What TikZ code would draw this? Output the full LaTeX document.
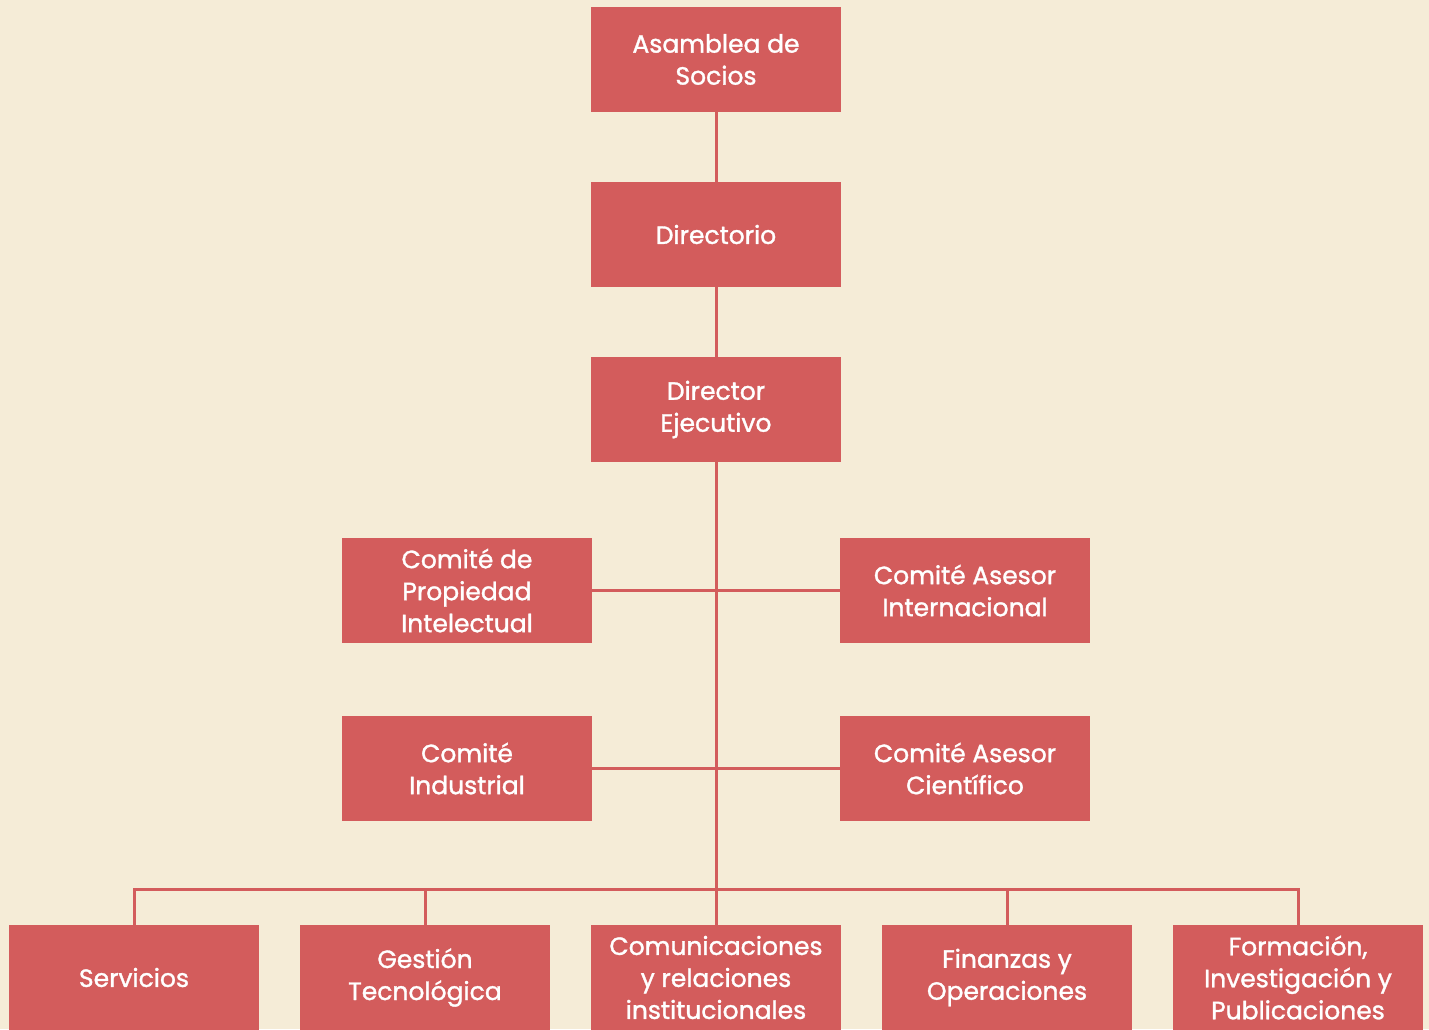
\documentclass[tikz,border=0pt]{standalone}
\usepackage{fontspec}
\setmainfont{Poppins}
\newfontfamily\boxfont{Poppins}[FakeBold=1.3]
\definecolor{boxred}{HTML}{D35C5C}
\definecolor{bgcream}{HTML}{F5ECD7}
\begin{document}
\begin{tikzpicture}[x=0.5pt,y=-0.5pt,
  orgbox/.style={fill=boxred, text=white, minimum width=125pt, minimum height=52.5pt,
    inner sep=0pt, align=center, font=\boxfont\fontsize{12.5}{16}\selectfont},
  link/.style={draw=boxred, line width=1.5pt}]
\fill[bgcream] (0,0) rectangle (1429,1029);
\useasboundingbox (0,0) rectangle (1429,1029);
\begin{scope}
\clip (0,0) rectangle (1429,1029);
\node[orgbox] (asam) at (716,59.5) {Asamblea de\\Socios};
\node[orgbox] (dir) at (716,234.5) {Directorio};
\node[orgbox] (dexe) at (716,409.5) {Director\\Ejecutivo};
\node[orgbox] (cpi) at (467,590.5) {Comité de\\Propiedad\\Intelectual};
\node[orgbox] (cai) at (965,590.5) {Comité Asesor\\Internacional};
\node[orgbox] (cind) at (467,768.5) {Comité\\Industrial};
\node[orgbox] (cac) at (965,768.5) {Comité Asesor\\Científico};
\node[orgbox] (serv) at (134,977.5) {Servicios};
\node[orgbox] (gest) at (425,977.5) {Gestión\\Tecnológica};
\node[orgbox] (comu) at (716,977.5) {Comunicaciones\\y relaciones\\institucionales};
\node[orgbox] (fin) at (1007,977.5) {Finanzas y\\Operaciones};
\node[orgbox] (form) at (1298,977.5) {Formación,\\Investigación y\\Publicaciones};
\end{scope}
\coordinate (bus) at (716,889);
\path[link] (asam.south) -- (dir.north);
\path[link] (dir.south) -- (dexe.north);
\path[link] (dexe.south) -- (comu.north);
\path[link] (cpi.east) -- (cai.west);
\path[link] (cind.east) -- (cac.west);
\path[link] (serv.north) |- (bus) -| (form.north);
\path[link] (gest.north) |- (bus);
\path[link] (fin.north) |- (bus);
\end{tikzpicture}
\end{document}
